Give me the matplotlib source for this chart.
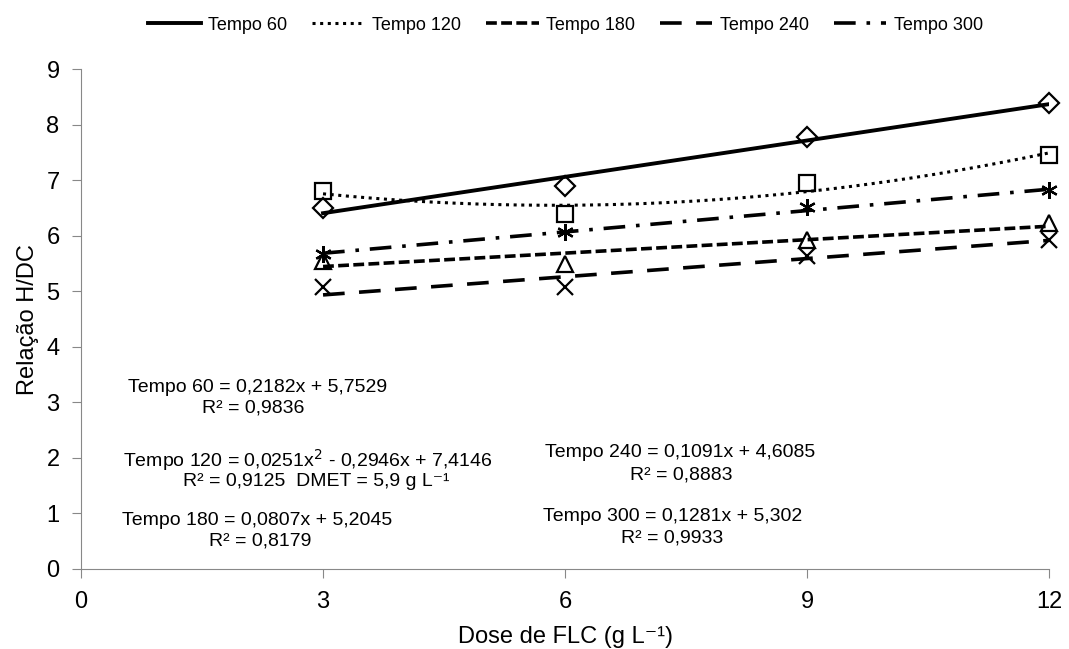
import numpy as np
import matplotlib.pyplot as plt
from matplotlib.lines import Line2D

plt.rcParams['font.family'] = ['Liberation Sans', 'DejaVu Sans']

# dados
doses = [3, 6, 9, 12]
tempo60 = [6.51, 6.90, 7.78, 8.40]
tempo120 = [6.80, 6.40, 6.95, 7.45]
tempo180 = [5.55, 5.50, 5.92, 6.23]
tempo240 = [5.07, 5.07, 5.63, 5.93]
tempo300 = [5.68, 6.07, 6.52, 6.82]

# coeficientes das equacoes mostradas (grau maior primeiro)
coef60 = [0.2182, 5.7529]
coef120 = [0.0251, -0.2946, 7.4146]
coef180 = [0.0807, 5.2045]
coef240 = [0.1091, 4.6085]
coef300 = [0.1281, 5.302]

nomes = ['Tempo 60', 'Tempo 120', 'Tempo 180', 'Tempo 240', 'Tempo 300']
series = [tempo60, tempo120, tempo180, tempo240, tempo300]
coefs = [coef60, coef120, coef180, coef240, coef300]
marcadores = ['D', 's', '^', 'x', (6, 2, 0)]
tamanhos = [10, 11, 11, 11, 12]
estilos = ['-', (0, (1, 1.5)), (0, (3, 1.2)), (0, (6, 4)), (0, (6, 3, 1, 3))]
larguras = [2.8, 2.2, 2.6, 2.6, 2.6]

fig = plt.figure(figsize=(10.69, 6.49), dpi=100)
ax = fig.add_axes([0.0758, 0.1233, 0.9055, 0.770])

xs = np.linspace(doses[0], doses[-1], 200)
for y, c, m, ms, ls, lw in zip(series, coefs, marcadores, tamanhos, estilos, larguras):
    ax.plot(xs, np.polyval(c, xs), color='black', linestyle=ls, linewidth=lw)
    ax.plot(doses, y, linestyle='none', marker=m, markersize=ms, clip_on=False,
            markerfacecolor='none', markeredgecolor='black', markeredgewidth=1.6)

ax.set_xlim(0, 12)
ax.set_ylim(0, 9)
ax.set_xticks([0, 3, 6, 9, 12])
ax.set_yticks(range(10))
ax.tick_params(labelsize=17, direction='out', length=6.5, color='#888888')
ax.tick_params(axis='y', pad=9)
ax.tick_params(axis='x', pad=9)
for s in ['top', 'right']:
    ax.spines[s].set_visible(False)
for s in ['left', 'bottom']:
    ax.spines[s].set_color('#888888')
ax.set_xlabel('Dose de FLC (g L⁻¹)', fontsize=17, labelpad=10)
ax.set_ylabel('Relação H/DC', fontsize=17, labelpad=5)

handles = [Line2D([], [], color='black', linestyle=ls, linewidth=lw)
           for ls, lw in zip(estilos, larguras)]
fig.legend(handles, nomes, loc='center', bbox_to_anchor=(0.529, 0.961), ncol=5,
           frameon=False, fontsize=13, handlelength=2.9, handletextpad=0.4,
           columnspacing=1.4)

# equacoes
fs = 14
ax.text(2.19, 3.27, 'Tempo 60 = 0,2182x + 5,7529', ha='center', va='center', fontsize=fs)
ax.text(2.13, 2.90, 'R² = 0,9836', ha='center', va='center', fontsize=fs)
ax.text(2.81, 1.96, 'Tempo 120 = 0,0251x$^2$ - 0,2946x + 7,4146', ha='center', va='center', fontsize=fs)
ax.text(2.91, 1.58, 'R² = 0,9125  DMET = 5,9 g L⁻¹', ha='center', va='center', fontsize=fs)
ax.text(2.18, 0.88, 'Tempo 180 = 0,0807x + 5,2045', ha='center', va='center', fontsize=fs)
ax.text(2.22, 0.50, 'R² = 0,8179', ha='center', va='center', fontsize=fs)
ax.text(7.43, 2.09, 'Tempo 240 = 0,1091x + 4,6085', ha='center', va='center', fontsize=fs)
ax.text(7.44, 1.69, 'R² = 0,8883', ha='center', va='center', fontsize=fs)
ax.text(7.34, 0.94, 'Tempo 300 = 0,1281x + 5,302', ha='center', va='center', fontsize=fs)
ax.text(7.33, 0.56, 'R² = 0,9933', ha='center', va='center', fontsize=fs)

plt.savefig('out.png', dpi=100)
